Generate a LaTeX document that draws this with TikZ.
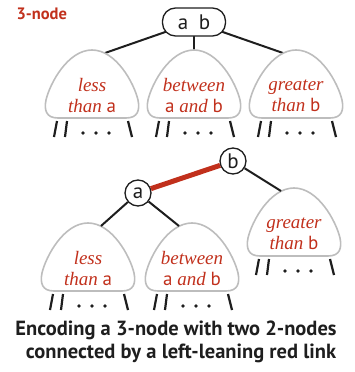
\documentclass[tikz,border=0pt]{standalone}
\usepackage{fontspec}
\setmainfont{Liberation Serif}
\setsansfont{PT Sans}
\usepackage{xcolor}
\usepackage{tikz}
\usetikzlibrary{backgrounds}
\definecolor{linkred}{HTML}{C1301C}
\definecolor{treegray}{HTML}{BDBDBD}
\definecolor{inkblack}{HTML}{1E1E1E}
\tikzset{
  keybox/.style={draw=inkblack,line width=1.3pt,fill=white,rounded corners=13pt,
    minimum width=63pt,minimum height=28pt,inner sep=0pt,text=inkblack,
    font=\sffamily\fontsize{21}{21}\selectfont},
  keycircle/.style={draw=inkblack,line width=1.3pt,fill=white,circle,
    minimum size=26pt,inner sep=0pt,text=inkblack,
    font=\sffamily\fontsize{21}{21}\selectfont},
  treeline/.style={draw=treegray,line width=1.6pt},
  treetext/.style={text=linkred,align=center,font=\fontsize{19}{21}\selectfont},
  edge/.style={draw=inkblack,line width=2pt},
  leg/.style={draw=inkblack,line width=2.2pt},
  redlink/.style={draw=linkred,line width=5pt},
  caption/.style={text=inkblack,font=\sffamily\bfseries\fontsize{20.5}{20.5}\selectfont},
}
% subtree: name, x, y (top of triangle), text
\newcommand{\subtree}[4]{%
  \begin{scope}[shift={(#2,#3)}]
    \draw[treeline] (0,68) -- (34,68) .. controls (46,68) and (48,60) .. (46,50)
      .. controls (42,33) and (24,0) .. (0,0)
      .. controls (-24,0) and (-42,33) .. (-46,50)
      .. controls (-48,60) and (-46,68) .. (-34,68) -- cycle;
    \coordinate (#1) at (0,0);
    \coordinate (#1-l) at (-13,3);
    \coordinate (#1-r) at (13,3);
    \node[treetext] (#1-txt) at (0,46) {#4};
    \draw[leg] (-35,71) -- (-38,87);
    \draw[leg] (-25,71) -- (-27,87);
    \draw[leg] (36,71) -- (40,87);
    \foreach \d in {-9,4,17}
      \fill[inkblack] (\d,83) circle[radius=1.9];
  \end{scope}}

\begin{document}
\begin{tikzpicture}[x=1pt,y=-1pt]
  \useasboundingbox (0,0) rectangle (355,372);
  \node[anchor=west,text=linkred,font=\sffamily\bfseries\fontsize{16.5}{16.5}\selectfont]
    (title) at (13,14) {3-node};

  % 3-node
  \node[keybox] (ab) at (194,22) {a\hspace{0.5em}b};
  \subtree{lt}{92}{50}{\textit{less}\\\textit{than} \textsf{a}}
  \subtree{mt}{194}{50}{\textit{between}\\\textsf{a} \textit{and} \textsf{b}}
  \subtree{rt}{296}{50}{\textit{greater}\\\textit{than} \textsf{b}}
  \begin{scope}[on background layer]
    \draw[edge] (ab.center) -- (lt-r);
    \draw[edge] (ab.center) -- (mt);
    \draw[edge] (ab.center) -- (rt-l);
  \end{scope}

  % two 2-nodes
  \node[keycircle] (b) at (233,161) {b};
  \node[keycircle] (a) at (138,193) {a};
  \subtree{ll}{88}{223}{\textit{less}\\\textit{than} \textsf{a}}
  \subtree{lm}{192}{223}{\textit{between}\\\textsf{a} \textit{and} \textsf{b}}
  \subtree{rr}{294}{188}{\textit{greater}\\\textit{than} \textsf{b}}
  \draw[redlink] (a) -- (b);
  \draw[edge] (a) -- (ll-r);
  \draw[edge] (a) -- (lm-l);
  \draw[edge] (b) -- (rr-l);

  \node[caption] (cap1) at (176,330) {Encoding a 3-node with two 2-nodes};
  \node[caption] (cap2) at (181,353) {connected by a left-leaning red link};
\end{tikzpicture}
\end{document}
